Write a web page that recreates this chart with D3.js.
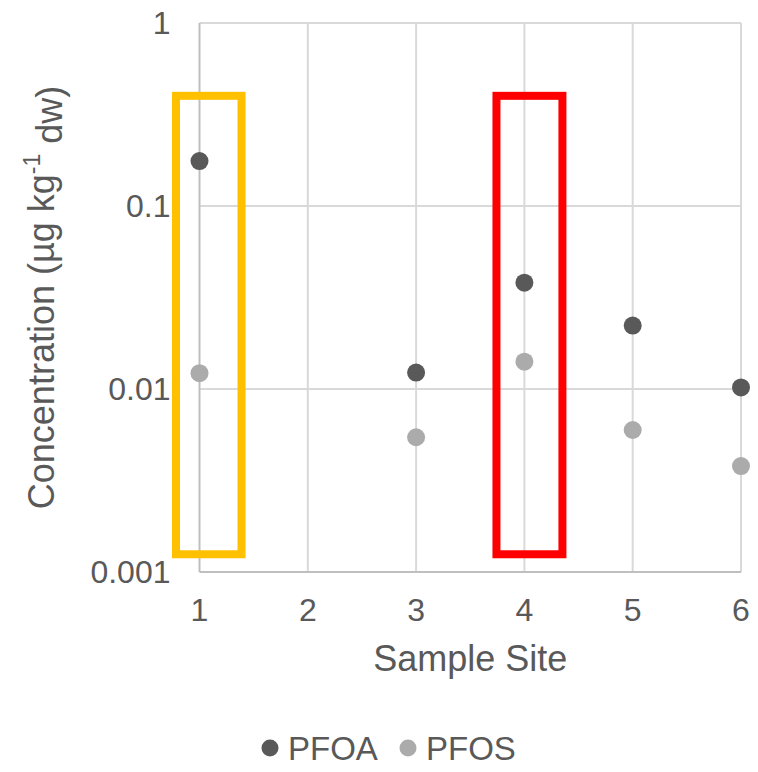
<!DOCTYPE html>
<html>
<head>
<meta charset="utf-8">
<script src="https://cdn.jsdelivr.net/npm/d3@7"></script>
<style>
  body { margin: 0; background: #fff; }
  text { font-family: "Liberation Sans", Arial, sans-serif; fill: #595959; }
</style>
</head>
<body>
<div id="chart"></div>
<script>
//============= DATA ==============//
const sites = [1, 2, 3, 4, 5, 6];
const pfoa = [0.176, null, 0.0123, 0.0381, 0.0222, 0.0102];
const pfos = [0.0122, null, 0.00545, 0.0141, 0.00597, 0.00379];
const yTicks = [0.001, 0.01, 0.1, 1];
const seriesNames = ["PFOA", "PFOS"];
const colors = ["#595959", "#ABABAB"];
// highlight boxes, in data units
const boxes = [
  {x0: 0.783, x1: 1.388, top: 0.4, bottom: 0.00125, color: "#FFC000"},
  {x0: 3.742, x1: 4.351, top: 0.4, bottom: 0.00125, color: "#FF0000"}
];

//============= SETUP ==============//
const W = 758, H = 772;
const margin = {top: 23, right: 17, bottom: 200, left: 199.5};
const width = W - margin.left - margin.right,
      height = H - margin.top - margin.bottom;

const svg = d3.select("#chart").append("svg")
    .attr("width", W)
    .attr("height", H);

const g = svg.append("g")
    .attr("transform", "translate(" + margin.left + "," + margin.top + ")");

const x = d3.scaleLinear().domain([1, 6]).range([0, width]);
const y = d3.scaleLog().domain([0.001, 1]).range([height, 0]);

// gridlines
g.append("g").selectAll("line.hgrid")
    .data(yTicks.slice(1))
    .join("line")
    .attr("x1", 0).attr("x2", width)
    .attr("y1", d => y(d)).attr("y2", d => y(d))
    .attr("stroke", "#D9D9D9").attr("stroke-width", 2);

g.append("g").selectAll("line.vgrid")
    .data(sites)
    .join("line")
    .attr("x1", d => x(d)).attr("x2", d => x(d))
    .attr("y1", 0).attr("y2", height)
    .attr("stroke", d => d === 1 ? "#BFBFBF" : "#D9D9D9")
    .attr("stroke-width", 2);

// x axis line
g.append("line")
    .attr("x1", 0).attr("x2", width)
    .attr("y1", height).attr("y2", height)
    .attr("stroke", "#BFBFBF").attr("stroke-width", 2);

// tick labels
g.append("g").selectAll("text")
    .data(yTicks)
    .join("text")
    .attr("x", -29)
    .attr("y", d => y(d))
    .attr("dy", "0.35em")
    .attr("text-anchor", "end")
    .style("font-size", "32px")
    .text(d => d3.format("~g")(d));

g.append("g").selectAll("text")
    .data(sites)
    .join("text")
    .attr("x", d => x(d))
    .attr("y", height + 49)
    .attr("text-anchor", "middle")
    .style("font-size", "32px")
    .text(d => d);

// axis titles
g.append("text")
    .attr("x", width / 2)
    .attr("y", height + 99)
    .attr("text-anchor", "middle")
    .style("font-size", "36px")
    .text("Sample Site");

const yt = svg.append("text")
    .attr("transform", "translate(54," + (margin.top + height / 2) + ") rotate(-90)")
    .attr("text-anchor", "middle")
    .style("font-size", "36px");
yt.append("tspan").text("Concentration (µg kg");
yt.append("tspan").attr("dy", "-0.6em").style("font-size", "23px").text("-1");
yt.append("tspan").attr("dy", "0.6em").text(" dw)");

// highlight boxes
g.append("g").selectAll("rect")
    .data(boxes)
    .join("rect")
    .attr("x", d => x(d.x0))
    .attr("y", d => y(d.top))
    .attr("width", d => x(d.x1) - x(d.x0))
    .attr("height", d => y(d.bottom) - y(d.top))
    .attr("fill", "none")
    .attr("stroke", d => d.color)
    .attr("stroke-width", 8);

// points
[pfoa, pfos].forEach((vals, k) => {
  g.append("g").selectAll("circle")
      .data(sites.map((s, i) => ({site: s, value: vals[i]})).filter(d => d.value != null))
      .join("circle")
      .attr("cx", d => x(d.site))
      .attr("cy", d => y(d.value))
      .attr("r", 9)
      .attr("fill", colors[k]);
});

// legend
const legendX = [270, 408];
const legend = svg.append("g");
seriesNames.forEach((name, i) => {
  legend.append("circle")
      .attr("cx", legendX[i]).attr("cy", 748)
      .attr("r", 8.5)
      .attr("fill", colors[i]);
  legend.append("text")
      .attr("x", legendX[i] + 18).attr("y", 748)
      .attr("dy", "0.36em")
      .style("font-size", "33px")
      .text(name);
});
</script>
</body>
</html>
